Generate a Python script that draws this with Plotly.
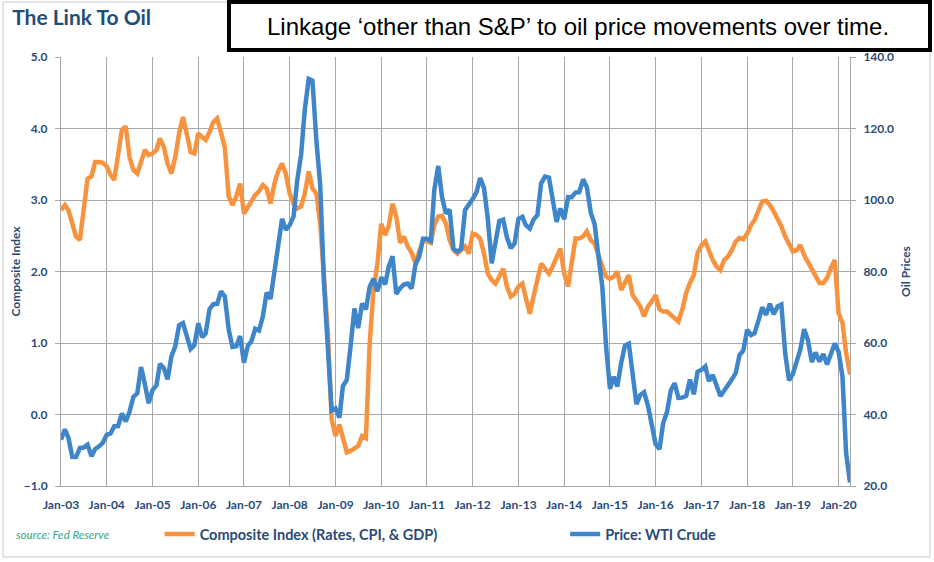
import pandas as pd
import plotly.graph_objects as go

# ── data (monthly, Jan-2003 .. Apr-2020) ─────────────────────────────
months = pd.date_range("2003-01-01", periods=208, freq="MS")

composite_index = [
    # 2003
    2.86, 2.93, 2.86, 2.67, 2.49, 2.44, 2.91, 3.30, 3.33, 3.53, 3.53, 3.52,
    # 2004
    3.47, 3.35, 3.28, 3.65, 3.98, 4.03, 3.60, 3.42, 3.37, 3.53, 3.70, 3.63,
    # 2005
    3.65, 3.70, 3.86, 3.74, 3.51, 3.37, 3.60, 3.93, 4.16, 3.93, 3.67, 3.65,
    # 2006
    3.93, 3.88, 3.84, 3.95, 4.09, 4.14, 3.91, 3.74, 3.05, 2.93, 3.05, 3.23,
    # 2007
    2.81, 2.91, 3.00, 3.07, 3.12, 3.21, 3.16, 2.95, 3.23, 3.40, 3.51, 3.37,
    # 2008
    3.09, 2.95, 2.88, 2.91, 3.09, 3.40, 3.16, 3.09, 2.67, 1.93, 1.14, -0.07,
    # 2009
    -0.30, -0.14, -0.35, -0.53, -0.51, -0.47, -0.44, -0.30, -0.33, 1.00, 1.75, 2.10,
    # 2010
    2.67, 2.51, 2.63, 2.95, 2.77, 2.40, 2.49, 2.35, 2.26, 2.12, 2.28, 2.44,
    # 2011
    2.42, 2.40, 2.65, 2.77, 2.78, 2.67, 2.44, 2.30, 2.25, 2.30, 2.35, 2.25,
    # 2012
    2.53, 2.51, 2.46, 2.25, 1.97, 1.88, 1.83, 1.93, 2.04, 1.79, 1.65, 1.69,
    # 2013
    1.79, 1.83, 1.60, 1.41, 1.65, 1.88, 2.11, 2.04, 1.97, 2.07, 2.21, 2.32,
    # 2014
    1.97, 1.79, 2.11, 2.46, 2.46, 2.49, 2.56, 2.44, 2.39, 2.21, 2.07, 1.93,
    # 2015
    1.90, 1.93, 2.00, 1.74, 1.83, 1.95, 1.67, 1.60, 1.51, 1.37, 1.51, 1.58,
    # 2016
    1.67, 1.47, 1.44, 1.44, 1.40, 1.35, 1.30, 1.47, 1.70, 1.84, 1.95, 2.26,
    # 2017
    2.37, 2.42, 2.28, 2.16, 2.07, 2.02, 2.16, 2.21, 2.30, 2.42, 2.47, 2.45,
    # 2018
    2.53, 2.65, 2.72, 2.84, 2.98, 2.99, 2.93, 2.84, 2.74, 2.63, 2.49, 2.37,
    # 2019
    2.28, 2.30, 2.37, 2.23, 2.14, 2.02, 1.95, 1.84, 1.84, 1.91, 2.05, 2.16,
    # 2020
    1.42, 1.28, 0.86, 0.56,
]

wti_price = [
    # 2003
    32.95, 35.83, 33.51, 28.17, 28.11, 30.66, 30.75, 31.57, 28.31, 30.34, 31.11, 32.13,
    # 2004
    34.31, 34.69, 36.74, 36.75, 40.28, 38.03, 40.78, 44.90, 45.94, 53.28, 48.47, 43.15,
    # 2005
    46.84, 48.15, 54.19, 52.98, 49.83, 56.35, 59.00, 64.99, 65.59, 62.26, 58.32, 59.41,
    # 2006
    65.49, 61.63, 62.69, 69.44, 70.84, 70.95, 74.41, 73.04, 63.80, 58.89, 59.08, 61.96,
    # 2007
    54.51, 59.28, 60.44, 63.98, 63.46, 67.49, 74.12, 72.36, 79.92, 85.80, 94.77, 91.69,
    # 2008
    92.97, 95.39, 105.45, 112.58, 125.40, 133.88, 133.37, 116.67, 104.11, 76.61, 57.31, 41.12,
    # 2009
    41.71, 39.09, 47.94, 49.65, 59.03, 69.64, 64.15, 71.05, 69.41, 75.72, 77.99, 74.47,
    # 2010
    78.33, 76.39, 81.20, 84.29, 73.74, 75.34, 76.32, 76.60, 75.24, 81.89, 84.25, 89.15,
    # 2011
    89.17, 88.58, 102.86, 109.53, 100.90, 96.26, 97.30, 86.33, 85.52, 86.32, 97.16, 98.56,
    # 2012
    100.27, 102.20, 106.16, 103.32, 94.66, 82.30, 87.90, 94.13, 94.51, 89.49, 86.53, 87.86,
    # 2013
    94.76, 95.31, 92.94, 92.02, 94.51, 95.77, 104.67, 106.57, 106.29, 100.54, 93.86, 97.63,
    # 2014
    94.62, 100.82, 100.80, 102.07, 102.18, 105.79, 103.59, 96.54, 93.21, 84.40, 75.79, 59.29,
    # 2015
    47.22, 50.58, 47.82, 54.45, 59.27, 59.82, 50.90, 42.87, 45.48, 46.22, 42.44, 37.19,
    # 2016
    31.68, 30.32, 37.55, 40.75, 46.71, 48.76, 44.65, 44.72, 45.18, 49.78, 45.66, 51.97,
    # 2017
    52.50, 53.47, 49.33, 51.06, 48.48, 45.18, 46.63, 48.04, 49.82, 51.58, 56.64, 57.88,
    # 2018
    63.70, 62.23, 62.73, 66.25, 69.98, 67.87, 70.98, 68.06, 70.23, 70.75, 56.96, 49.52,
    # 2019
    51.38, 54.95, 58.15, 63.86, 60.83, 54.66, 57.35, 54.81, 56.95, 53.96, 57.03, 59.88,
    # 2020
    57.52, 50.54, 29.21, 21.00,
]

# ── style ─────────────────────────────────────────────────────────────
FONT = "Lato, 'Open Sans', sans-serif"
NAVY = "#2A4A78"
ORANGE = "#F7933F"
BLUE = "#3F85CA"
GRID = "#A8A8A8"

fig = go.Figure()

fig.add_trace(go.Scatter(
    x=months, y=composite_index,
    name="Composite Index (Rates, CPI, & GDP)",
    mode="lines", line=dict(color=ORANGE, width=4.5),
    legend="legend",
))
fig.add_trace(go.Scatter(
    x=months, y=wti_price,
    name="Price: WTI Crude",
    mode="lines", line=dict(color=BLUE, width=4.5),
    yaxis="y2", legend="legend2",
))

tickfont = dict(family=FONT, size=12, color=NAVY, weight="bold")
legfont = dict(family=FONT, size=14.5, color=NAVY, weight="bold")
titlefont = dict(family=FONT, size=12, color=NAVY, weight="bold")

fig.update_layout(
    width=934, height=562,
    margin=dict(l=61, r=84, t=57, b=76),
    paper_bgcolor="white", plot_bgcolor="white",
    title=dict(
        text="<b>The Link To Oil</b>",
        xref="container", yref="container",
        x=0.013, xanchor="left", y=0.968, yanchor="middle",
        font=dict(family=FONT, size=21, color="#1F4E79"),
    ),
    xaxis=dict(
        type="date",
        range=["2003-01-01", "2020-04-01"],
        dtick="M12", tick0="2003-01-01", tickformat="%b-%y",
        showgrid=True, gridcolor=GRID, gridwidth=1,
        showline=True, linecolor=GRID, linewidth=1,
        ticks="", tickfont=tickfont, zeroline=False,
        ticklabelstandoff=8,
    ),
    yaxis=dict(
        range=[-1, 5], dtick=1, tickformat=".1f",
        showgrid=True, gridcolor=GRID, gridwidth=1,
        showline=True, linecolor=GRID, linewidth=1,
        ticks="outside", ticklen=5, tickcolor=GRID,
        tickfont=tickfont, zeroline=False, ticklabelstandoff=5,
        title=dict(text="Composite Index", standoff=0, font=titlefont),
    ),
    yaxis2=dict(
        overlaying="y", side="right",
        range=[20, 140], dtick=20, tickformat=".1f",
        showgrid=False,
        showline=True, linecolor=GRID, linewidth=1,
        ticks="outside", ticklen=5, tickcolor=GRID,
        tickfont=tickfont, zeroline=False, ticklabelstandoff=5,
        title=dict(text="Oil Prices", standoff=8, font=titlefont),
    ),
    legend=dict(
        x=0.125, y=-0.112, xanchor="left", yanchor="middle",
        font=legfont, bgcolor="rgba(0,0,0,0)",
    ),
    legend2=dict(
        x=0.639, y=-0.112, xanchor="left", yanchor="middle",
        font=legfont, bgcolor="rgba(0,0,0,0)",
    ),
    showlegend=True,
)

# outer chart frame
fig.add_shape(type="rect", xref="paper", yref="paper",
              x0=-0.0735, x1=1.1014, y0=-0.1655, y1=1.1282,
              line=dict(color="#C8C8C8", width=1), layer="below")

# headline box
fig.add_shape(type="rect", xref="paper", yref="paper",
              x0=0.2129, x1=1.1014, y0=1.0163, y1=1.1282,
              line=dict(color="black", width=4), fillcolor="white")
fig.add_annotation(
    text="Linkage \u2018other than S&P\u2019 to oil price movements over time.",
    xref="paper", yref="paper", x=0.655, y=1.07,
    xanchor="center", yanchor="middle", showarrow=False,
    font=dict(family="Liberation Sans, Arial, sans-serif", size=24, color="black"),
)

fig.add_annotation(
    text="<i>source: Fed Reserve</i>",
    xref="paper", yref="paper", x=-0.0596, y=-0.112,
    xanchor="left", yanchor="middle", showarrow=False,
    font=dict(family=FONT, size=11.5, color="#2FA88A"),
)

# the page has no body margin so the chart sits flush in the window
fig.write_html("out.html", config={"displayModeBar": False},
               post_script="document.body.style.margin='0';")
